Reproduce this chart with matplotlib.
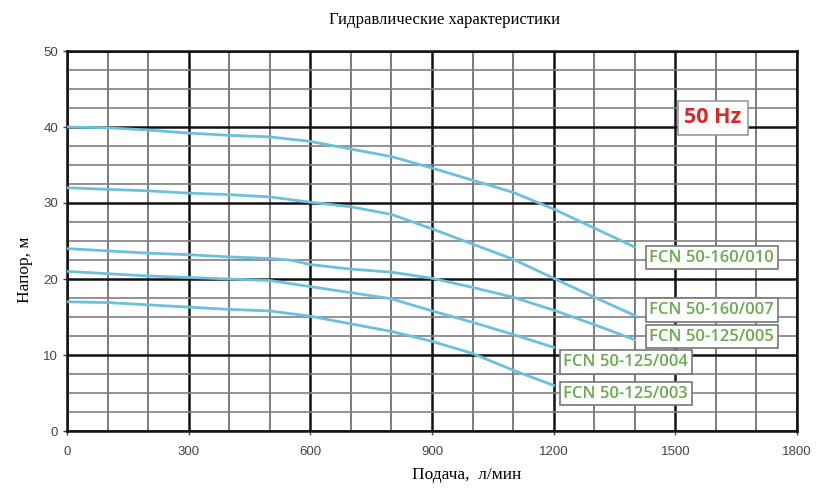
import matplotlib
matplotlib.use("Agg")
import matplotlib.pyplot as plt
import numpy as np

# Data (flow l/min, head m)
q_010 = [0, 100, 200, 300, 400, 500, 600, 700, 800, 900, 1000, 1100, 1200, 1300, 1400]
h_010 = [40, 39.9, 39.6, 39.2, 38.9, 38.7, 38.1, 37.1, 36.1, 34.6, 33.0, 31.4, 29.2, 26.7, 24.2]

q_007 = [0, 100, 200, 300, 400, 500, 600, 700, 800, 900, 1000, 1100, 1200, 1300, 1400]
h_007 = [32, 31.8, 31.6, 31.3, 31.1, 30.8, 30.1, 29.5, 28.5, 26.6, 24.6, 22.6, 20.1, 17.6, 15.2]

q_005 = [0, 100, 200, 300, 400, 500, 550, 600, 700, 800, 900, 1000, 1100, 1200, 1300, 1400]
h_005 = [24, 23.7, 23.4, 23.2, 22.9, 22.7, 22.5, 21.9, 21.3, 20.9, 20.1, 18.9, 17.6, 15.9, 14.0, 12.0]

q_004 = [0, 100, 200, 300, 400, 500, 600, 700, 800, 900, 1000, 1100, 1200]
h_004 = [21, 20.7, 20.4, 20.2, 20.0, 19.8, 19.0, 18.2, 17.4, 15.8, 14.3, 12.7, 11.0]

q_003 = [0, 100, 200, 300, 400, 500, 600, 700, 800, 900, 1000, 1100, 1200]
h_003 = [17, 16.9, 16.6, 16.3, 16.0, 15.8, 15.1, 14.1, 13.1, 11.8, 10.2, 8.0, 6.0]

labels = ["FCN 50-160/010", "FCN 50-160/007", "FCN 50-125/005", "FCN 50-125/004", "FCN 50-125/003"]
label_x = [1436, 1436, 1436, 1224, 1224]
label_y = [22.8, 15.9, 12.4, 9.1, 4.9]

x_ticks = [0, 300, 600, 900, 1200, 1500, 1800]
y_ticks = [0, 10, 20, 30, 40, 50]

fig = plt.figure(figsize=(8.25, 4.92), dpi=100)
ax = fig.add_axes([67/825, 1-431/492, (797-67)/825, (431-51)/492])
ax.set_xlim(0, 1800)
ax.set_ylim(0, 50)

# Grid
for xv in np.arange(0, 1801, 100):
    major = (xv % 300 == 0)
    ax.axvline(xv, color="#111111" if major else "#666666", lw=1.8 if major else 1.2, zorder=1)
for yv in np.arange(0, 50.1, 2.5):
    major = (yv % 10 == 0)
    ax.axhline(yv, color="#111111" if major else "#808080", lw=1.8 if major else 1.2, zorder=1)

for s in ax.spines.values():
    s.set_linewidth(1.8)
    s.set_color("#111111")

curve_color = "#6cc0dc"
for q, h in [(q_010, h_010), (q_007, h_007), (q_005, h_005), (q_004, h_004), (q_003, h_003)]:
    ax.plot(q, h, color=curve_color, lw=2, zorder=3)

for lab, lx, ly in zip(labels, label_x, label_y):
    ax.text(lx, ly, lab, color="#6aaa50", fontsize=12, family="Open Sans", fontweight="semibold",
            va="center", ha="left", zorder=5,
            bbox=dict(boxstyle="square,pad=0.22", fc="white", ec="#777777", lw=1.2))

ax.text(1593, 41.2, "50 Hz", color="#d42a2a", fontsize=15.5, family="Open Sans", fontweight="bold",
        va="center", ha="center", zorder=5,
        bbox=dict(boxstyle="square,pad=0.3", fc="white", ec="#999999", lw=1.2))

ax.set_xticks(x_ticks)
ax.set_yticks(y_ticks)
ax.tick_params(axis="both", labelsize=9.5, colors="#444444", length=3, width=1)
ax.tick_params(axis="x", pad=8)
for t in ax.get_xticklabels() + ax.get_yticklabels():
    t.set_family("Liberation Sans")

fig.text(445/825, 1-20/492, "Гидравлические характеристики", family="Liberation Serif",
         fontsize=12, ha="center", va="center")
fig.text(467/825, 1-475/492, "Подача,  л/мин", family="Liberation Serif",
         fontsize=12.5, ha="center", va="center")
fig.text(25/825, 1-270/492, "Напор, м", family="Liberation Serif",
         fontsize=12.5, ha="center", va="center", rotation=90)

fig.savefig("out.png", dpi=100)
